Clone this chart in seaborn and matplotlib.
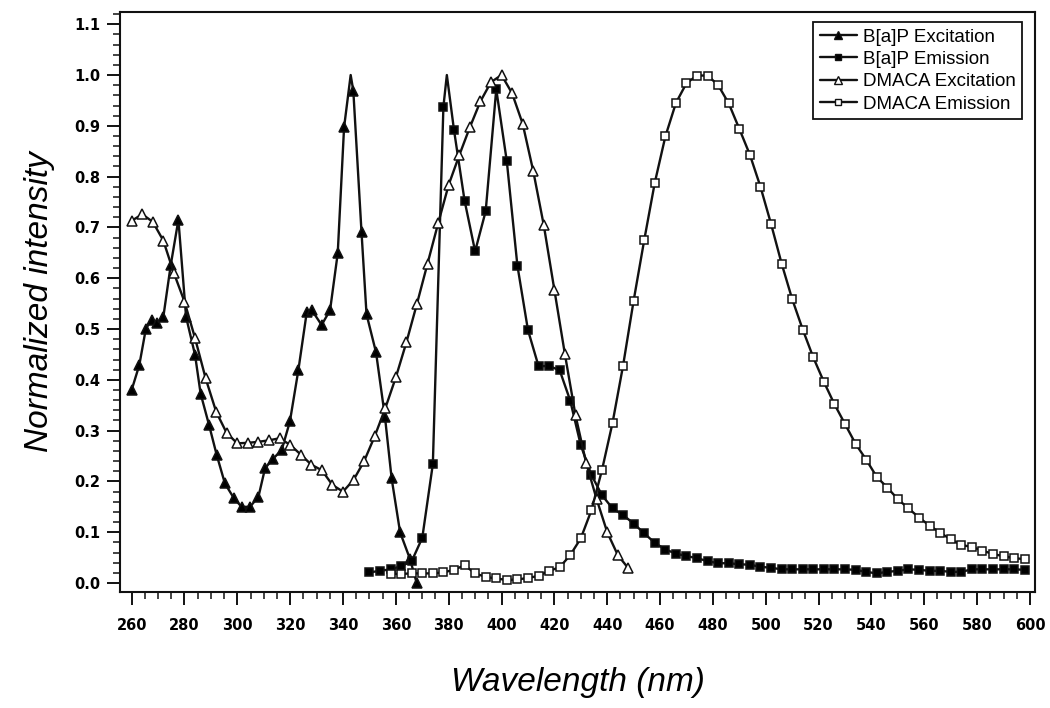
import pandas as pd
import matplotlib
matplotlib.use("Agg")
import matplotlib.pyplot as plt
from matplotlib.lines import Line2D
from matplotlib.ticker import MultipleLocator, FormatStrFormatter
import seaborn as sns

# B[a]P excitation (filled triangles)
bap_ex_nm = [260.0, 262.9, 265.4, 267.6, 269.5, 272.0, 274.8, 277.7, 280.6, 284.0,
             286.1, 289.3, 292.2, 295.3, 298.7, 301.6, 304.8, 308.0, 310.5, 313.6,
             316.8, 319.9, 323.1, 326.3, 328.2, 331.9, 335.1, 338.0, 340.4, 343.9,
             347.0, 348.9, 352.5, 355.9, 358.4, 361.6, 365.3, 367.9]
bap_ex_val = [0.380, 0.429, 0.501, 0.518, 0.511, 0.524, 0.626, 0.715, 0.524, 0.449,
              0.373, 0.311, 0.252, 0.196, 0.167, 0.150, 0.150, 0.170, 0.226, 0.245,
              0.262, 0.318, 0.419, 0.534, 0.537, 0.508, 0.537, 0.649, 0.897, 0.969,
              0.691, 0.529, 0.454, 0.326, 0.206, 0.100, 0.048, 0.000]
# sharp maximum between two markers (line only, no marker)
bap_ex_peak_nm = [342.9]
bap_ex_peak_val = [1.0]

# B[a]P emission (filled squares)
bap_em_nm = [350, 354, 358, 362, 366, 370, 374, 378, 382, 386, 390, 394, 398, 402,
             406, 410, 414, 418, 422, 426, 430, 434, 438, 442, 446, 450, 454, 458,
             462, 466, 470, 474, 478, 482, 486, 490, 494, 498, 502, 506, 510, 514,
             518, 522, 526, 530, 534, 538, 542, 546, 550, 554, 558, 562, 566, 570,
             574, 578, 582, 586, 590, 594, 598]
bap_em_val = [0.021, 0.024, 0.027, 0.033, 0.043, 0.089, 0.234, 0.938, 0.892, 0.753,
              0.653, 0.732, 0.972, 0.830, 0.625, 0.498, 0.427, 0.427, 0.419, 0.359,
              0.271, 0.213, 0.173, 0.147, 0.134, 0.117, 0.098, 0.079, 0.066, 0.058,
              0.053, 0.049, 0.043, 0.039, 0.039, 0.037, 0.036, 0.032, 0.030, 0.027,
              0.027, 0.027, 0.027, 0.027, 0.027, 0.027, 0.026, 0.022, 0.019, 0.022,
              0.024, 0.027, 0.026, 0.024, 0.024, 0.022, 0.022, 0.027, 0.027, 0.027,
              0.027, 0.027, 0.026]
bap_em_peak_nm = [379.3]
bap_em_peak_val = [1.0]

# DMACA excitation (open triangles)
dm_ex_nm = [260, 264, 268, 272, 276, 280, 284, 288, 292, 296, 300, 304, 308, 312,
            316, 320, 324, 328, 332, 336, 340, 344, 348, 352, 356, 360, 364, 368,
            372, 376, 380, 384, 388, 392, 396, 400, 404, 408, 412, 416, 420, 424,
            428, 432, 436, 440, 444, 448]
dm_ex_val = [0.713, 0.726, 0.711, 0.674, 0.610, 0.554, 0.482, 0.403, 0.337, 0.295,
             0.275, 0.276, 0.278, 0.281, 0.285, 0.272, 0.253, 0.233, 0.222, 0.193,
             0.180, 0.203, 0.240, 0.289, 0.344, 0.405, 0.474, 0.550, 0.629, 0.708,
             0.784, 0.842, 0.897, 0.948, 0.986, 1.000, 0.964, 0.904, 0.811, 0.704,
             0.577, 0.450, 0.330, 0.237, 0.165, 0.100, 0.055, 0.029]

# DMACA emission (open squares)
dm_em_nm = [358, 362, 366, 370, 374, 378, 382, 386, 390, 394, 398, 402, 406, 410,
            414, 418, 422, 426, 430, 434, 438, 442, 446, 450, 454, 458, 462, 466,
            470, 474, 478, 482, 486, 490, 494, 498, 502, 506, 510, 514, 518, 522,
            526, 530, 534, 538, 542, 546, 550, 554, 558, 562, 566, 570, 574, 578,
            582, 586, 590, 594, 598]
dm_em_val = [0.018, 0.018, 0.019, 0.019, 0.019, 0.021, 0.026, 0.035, 0.019, 0.012,
             0.009, 0.006, 0.007, 0.010, 0.014, 0.024, 0.031, 0.055, 0.088, 0.143,
             0.222, 0.315, 0.428, 0.556, 0.675, 0.788, 0.879, 0.945, 0.984, 0.999,
             0.999, 0.980, 0.944, 0.894, 0.843, 0.780, 0.707, 0.629, 0.559, 0.499,
             0.444, 0.396, 0.352, 0.313, 0.274, 0.243, 0.209, 0.188, 0.165, 0.147,
             0.129, 0.113, 0.099, 0.086, 0.075, 0.071, 0.064, 0.057, 0.053, 0.049,
             0.047]

legendas = ["B[a]P Excitation", "B[a]P Emission", "DMACA Excitation", "DMACA Emission"]


def montar_serie(nm, val, pico_nm=(), pico_val=()):
    df = pd.DataFrame({
        "nm": list(nm) + list(pico_nm),
        "val": list(val) + list(pico_val),
        "marcado": [True] * len(nm) + [False] * len(pico_nm),
    })
    return df.sort_values("nm").reset_index(drop=True)


series = [
    (montar_serie(bap_ex_nm, bap_ex_val, bap_ex_peak_nm, bap_ex_peak_val), "^", "black", 7.8),
    (montar_serie(bap_em_nm, bap_em_val, bap_em_peak_nm, bap_em_peak_val), "s", "black", 6.2),
    (montar_serie(dm_ex_nm, dm_ex_val), "^", "white", 7.8),
    (montar_serie(dm_em_nm, dm_em_val), "s", "white", 6.2),
]

sns.set_style("ticks")
plt.rcParams["font.family"] = ["Liberation Sans", "DejaVu Sans"]

fig = plt.figure(figsize=(10.5, 7.08), dpi=100)
ax = fig.add_axes([0.1143, 0.1638, 0.8714, 0.8192])

cor = "#111111"
handles = []
for (df, marcador, cor_face, tam), rotulo in zip(series, legendas):
    sns.lineplot(
        data=df, x="nm", y="val", ax=ax, estimator=None, sort=False,
        color=cor, linewidth=1.7, marker=marcador, markersize=tam,
        markerfacecolor=cor_face, markeredgecolor=cor, markeredgewidth=1.1,
        markevery=df["marcado"].tolist(),
    )
    handles.append(Line2D([], [], color=cor, linewidth=1.7, marker=marcador,
                          markersize=tam - 1.5, markerfacecolor=cor_face,
                          markeredgecolor=cor, markeredgewidth=1.0, label=rotulo))

ax.set_xlim(255.6, 601.9)
ax.set_ylim(-0.0177, 1.124)
ax.xaxis.set_major_locator(MultipleLocator(20))
ax.xaxis.set_minor_locator(MultipleLocator(5))
ax.yaxis.set_major_locator(MultipleLocator(0.1))
ax.yaxis.set_minor_locator(MultipleLocator(0.02))
ax.yaxis.set_major_formatter(FormatStrFormatter("%.1f"))

ax.tick_params(which="major", direction="out", length=9.5, width=1.4,
               color=cor, labelcolor="black")
ax.tick_params(which="minor", direction="out", length=4.8, width=1.1, color=cor)
ax.tick_params(axis="y", which="major", labelsize=10.5, pad=4.5)
ax.tick_params(axis="x", which="major", labelsize=10.5, pad=9)
for rotulo in ax.get_yticklabels() + ax.get_xticklabels():
    rotulo.set_fontweight("bold")
    rotulo.set_family(["DejaVu Sans"])

for lado in ["left", "bottom", "top", "right"]:
    ax.spines[lado].set_linewidth(1.5)
    ax.spines[lado].set_color(cor)

ax.set_xlabel("Wavelength (nm)", fontsize=24, style="italic", labelpad=25, color="black")
ax.set_ylabel("Normalized intensity", fontsize=24, style="italic", labelpad=14, color="black")

leg = ax.legend(handles=handles, loc="upper right", bbox_to_anchor=(0.986, 0.983),
                borderaxespad=0, fontsize=13.5, frameon=True, fancybox=False,
                edgecolor=cor, framealpha=1, handlelength=2.0,
                handletextpad=0.3, labelspacing=0.28, borderpad=0.35)
leg.get_frame().set_linewidth(1.3)
for texto in leg.get_texts():
    texto.set_color("black")

fig.savefig("out.png", dpi=100)
